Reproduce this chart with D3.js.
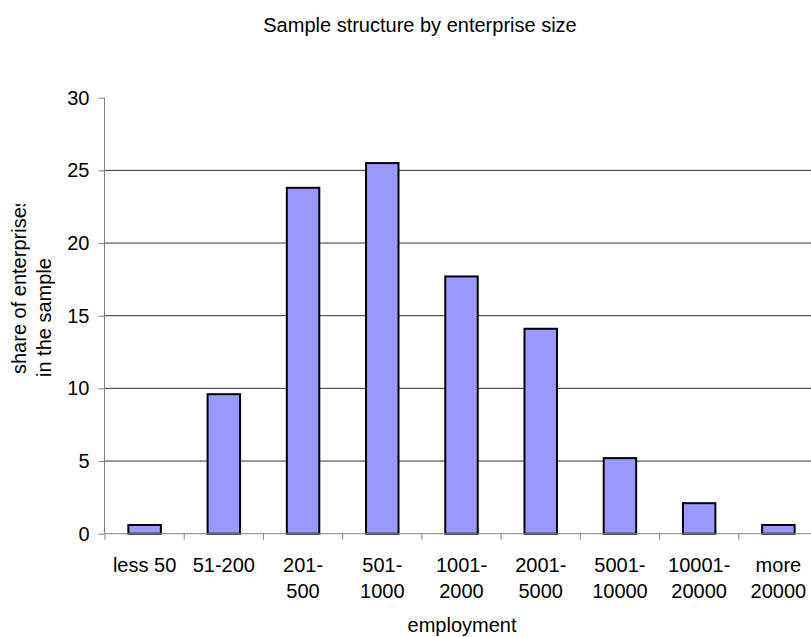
<!DOCTYPE html>
<html><head><meta charset="utf-8">
<script src="https://cdn.jsdelivr.net/npm/d3@7"></script>
<style>body{margin:0;background:#fff}svg{display:block}text{font-family:"Liberation Sans",Arial,sans-serif;fill:#000}</style>
</head><body>
<svg id="c" width="811" height="637"></svg>
<script>
const categories = [["less 50"],["51-200"],["201-","500"],["501-","1000"],["1001-","2000"],["2001-","5000"],["5001-","10000"],["10001-","20000"],["more","20000"]];
const values = [0.6, 9.6, 23.8, 25.5, 17.7, 14.1, 5.2, 2.1, 0.6];
const yTicks = [0, 5, 10, 15, 20, 25, 30];

const FONT = "Liberation Sans, Arial, sans-serif";
const svg = d3.select("#c");
const x = d3.scaleBand().domain(d3.range(categories.length)).range([105, 818]).paddingInner(0.59).paddingOuter(0.295);
const xb = d3.scaleBand().domain(d3.range(categories.length)).range([105, 818]);
const y = d3.scaleLinear().domain([0, 30]).range([533.7, 97.7]);

// gridlines
svg.append("g").selectAll("line").data(yTicks.filter(t => t > 0 && t < 30)).join("line")
  .attr("x1", 105).attr("x2", 818).attr("y1", d => y(d)).attr("y2", d => y(d))
  .attr("stroke", "#333").attr("stroke-width", 1);

// bars
svg.append("g").selectAll("rect").data(values).join("rect")
  .attr("x", (d, i) => x(i)).attr("width", x.bandwidth())
  .attr("y", d => y(d)).attr("height", d => y(0) - y(d))
  .attr("fill", "#9999ff").attr("stroke", "#000").attr("stroke-width", 2);

// y axis
const ya = svg.append("g").attr("transform", "translate(104.5,0)")
  .call(d3.axisLeft(y).tickValues(yTicks).tickSize(6).tickPadding(9));
ya.select(".domain").attr("stroke", "#808080").attr("d", `M0,${y(30)}V${y(0)}`);
ya.selectAll(".tick line").attr("stroke", "#808080");
ya.selectAll(".tick text").attr("font-size", 20).attr("font-family", FONT).attr("fill", "#000");

// x axis
const xa = svg.append("g").attr("transform", `translate(0,${y(0)})`);
xa.append("line").attr("x1", 105).attr("x2", 818).attr("stroke", "#808080");
xa.selectAll("line.t").data(d3.range(categories.length + 1)).join("line").attr("class", "t")
  .attr("x1", i => 105 + i * xb.step()).attr("x2", i => 105 + i * xb.step())
  .attr("y1", 0).attr("y2", 6).attr("stroke", "#808080");
const lab = xa.selectAll("text").data(categories).join("text")
  .attr("text-anchor", "middle").attr("font-size", 20)
  .attr("transform", (d, i) => `translate(${xb(i) + xb.bandwidth() / 2},0)`);
lab.selectAll("tspan").data(d => d).join("tspan")
  .attr("x", 0).attr("y", (d, j) => 38 + j * 26.6).text(d => d);

// titles
svg.append("text").attr("x", 420).attr("y", 32).attr("text-anchor", "middle").attr("font-size", 20)
  .text("Sample structure by enterprise size");
svg.append("text").attr("x", 462).attr("y", 632).attr("text-anchor", "middle").attr("font-size", 20)
  .text("employment");
svg.append("defs").append("clipPath").attr("id", "yclip").append("rect")
  .attr("x", 0).attr("y", 204).attr("width", 60).attr("height", 200);
const yt = svg.append("g").attr("clip-path", "url(#yclip)");
yt.append("text").attr("transform", "translate(26,374) rotate(-90)").attr("font-size", 20)
  .text("share of enterprises");
yt.append("text").attr("transform", "translate(51,377) rotate(-90)").attr("font-size", 20)
  .text("in the sample");
</script>
</body></html>
